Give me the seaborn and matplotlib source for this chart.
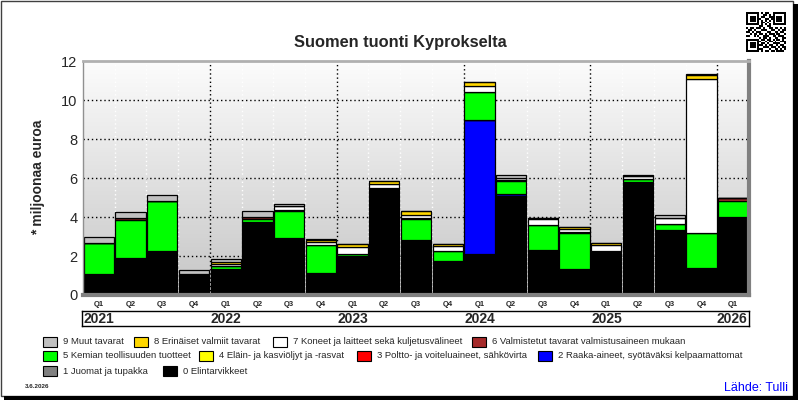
import numpy as np
import pandas as pd
import matplotlib
matplotlib.use("Agg")
import matplotlib.pyplot as plt
import seaborn as sns
from matplotlib.patches import Rectangle
from matplotlib.colors import LinearSegmentedColormap

# --- data (miljoonaa euroa) ---
quarters = ["Q1", "Q2", "Q3", "Q4"] * 5 + ["Q1"]
years = [2021] * 4 + [2022] * 4 + [2023] * 4 + [2024] * 4 + [2025] * 4 + [2026]

categories = [
    "9 Muut tavarat",
    "8 Erinäiset valmiit tavarat",
    "7 Koneet ja laitteet sekä kuljetusvälineet",
    "6 Valmistetut tavarat valmistusaineen mukaan",
    "5 Kemian teollisuuden tuotteet",
    "4 Eläin- ja kasviöljyt ja -rasvat",
    "3 Poltto- ja voiteluaineet, sähkövirta",
    "2 Raaka-aineet, syötäväksi kelpaamattomat",
    "1 Juomat ja tupakka",
    "0 Elintarvikkeet",
]
colors = ["#c0c0c0", "#ffd700", "#ffffff", "#a52a2a", "#00ff00",
          "#ffff00", "#ff0000", "#0000ff", "#808080", "#000000"]

s0 = [1.07, 1.89, 2.24, 1.07, 1.34, 3.74, 2.92, 1.14, 1.99, 5.48, 2.81,
      1.73, 2.11, 5.07, 2.30, 1.33, 2.18, 5.72, 3.32, 1.38, 3.98]
s1 = [0, 0, 0, 0, 0, 0, 0, 0, 0, 0, 0, 0, 0, 0, 0, 0, 0, 0.05, 0, 0, 0]
s2 = [0, 0, 0, 0, 0, 0, 0, 0, 0, 0, 0, 0, 6.89, 0.12, 0, 0, 0, 0, 0, 0, 0]
s3 = [0] * 21
s4 = [0] * 21
s5 = [1.60, 1.94, 2.57, 0, 0.14, 0.17, 1.38, 1.44, 0.10, 0.03, 1.07,
      0.53, 1.39, 0.64, 1.30, 1.85, 0.06, 0.20, 0.32, 1.82, 0.82]
s6 = [0, 0.10, 0, 0, 0, 0.10, 0.05, 0, 0, 0, 0.08, 0, 0, 0.05, 0, 0.04,
      0, 0, 0, 0, 0.15]
s7 = [0, 0, 0, 0, 0.12, 0, 0.20, 0.15, 0.37, 0.20, 0.15, 0.26, 0.31, 0.10,
      0.30, 0.16, 0.31, 0.12, 0.32, 7.90, 0]
s8 = [0, 0, 0, 0, 0.08, 0, 0, 0.10, 0.17, 0.14, 0.22, 0.12, 0.20, 0, 0.06,
      0.10, 0.12, 0, 0, 0.16, 0]
s9 = [0.33, 0.34, 0.33, 0.21, 0.16, 0.30, 0.13, 0.03, 0, 0, 0, 0, 0, 0.15,
      0, 0, 0, 0.08, 0.16, 0.05, 0]
series = [s9, s8, s7, s6, s5, s4, s3, s2, s1, s0]

yticks = [0, 2, 4, 6, 8, 10, 12]

# long format for seaborn
rows = []
for cat, vals in zip(categories, series):
    for i, v in enumerate(vals):
        rows.append({"idx": i, "ryhmä": cat, "arvo": v})
df = pd.DataFrame(rows)

sns.set_style("white")
plt.rcParams["font.family"] = ["Liberation Sans", "DejaVu Sans"]

W, H = 800, 400
fig = plt.figure(figsize=(8, 4), dpi=100)


def fx(x):
    return x / W


def fy(y):
    return 1 - y / H


# plot area
ax = fig.add_axes([fx(83), fy(295), fx(666), 234 / H])

# gradient background
cmap = LinearSegmentedColormap.from_list("bg", ["#c6c6c6", "#fcfcfc"])
grad = np.linspace(0, 1, 256).reshape(-1, 1)
ax.imshow(grad, extent=[-0.5, 20.5, 0, 12], origin="lower", aspect="auto",
          cmap=cmap, zorder=0)

n = len(quarters)
# grid
for yv in yticks[1:-1]:
    ax.axhline(yv, color="black", lw=1, ls=(0, (1, 2)), zorder=0.5)
for k in range(1, n):
    b = k - 0.5
    if years[k] != years[k - 1]:
        ax.axvline(b, color="black", lw=1, ls=(0, (1, 2)), zorder=0.5)
    else:
        ax.axvline(b, color="white", lw=1, ls=(0, (1, 2)), zorder=0.5)

sns.histplot(data=df, x="idx", weights="arvo", hue="ryhmä",
             hue_order=categories, palette=dict(zip(categories, colors)),
             multiple="stack", discrete=True, shrink=0.955,
             edgecolor="black", linewidth=0.9, alpha=1, legend=False, ax=ax)

ax.set_xlim(-0.5, n - 0.5)
ax.set_ylim(0, 12)
ax.set_xlabel("")
ax.set_ylabel("")

ax.set_yticks(yticks)
ax.set_yticklabels([str(v) for v in yticks], fontsize=10.5)
ax.tick_params(axis="y", length=0, pad=4)

ax.set_xticks(np.arange(-0.5, n, 1))
ax.set_xticklabels([])
ax.tick_params(axis="x", which="major", length=4, width=1, color="black",
               direction="out")
ax.set_xticks(np.arange(n), minor=True)
ax.set_xticklabels(quarters, minor=True, fontsize=5.5, fontweight="bold")
ax.tick_params(axis="x", which="minor", length=0, pad=4)

ax.spines["top"].set_color("#b0b0b0")
ax.spines["top"].set_linewidth(2)
ax.spines["right"].set_color("#808080")
ax.spines["right"].set_linewidth(3)
ax.spines["bottom"].set_color("#808080")
ax.spines["bottom"].set_linewidth(3)
ax.spines["left"].set_color("#909090")
ax.spines["left"].set_linewidth(1)

# year strip
ay = fig.add_axes([fx(82), fy(326), fx(667), 15 / H])
ay.set_xlim(-0.5, n - 0.5)
ay.set_ylim(0, 1)
ay.set_xticks([])
ay.set_yticks([])
for sp in ay.spines.values():
    sp.set_color("black")
    sp.set_linewidth(1)
for yr in sorted(set(years)):
    first = years.index(yr)
    cnt = years.count(yr)
    if cnt >= 2:
        ay.text(first - 0.5 + 0.05, 0.45, str(yr), ha="left", va="center",
                fontsize=10, fontweight="bold")
    else:
        ay.text(n - 0.5 - 0.05, 0.45, str(yr), ha="right", va="center",
                fontsize=10, fontweight="bold")

# title and labels
fig.text(0.5, fy(42), "Suomen tuonti Kyprokselta", ha="center", va="center",
         fontsize=11.8, fontweight="bold")
fig.text(fx(38), fy(177), "* miljoonaa euroa", rotation=90, ha="center",
         va="center", fontsize=10, fontweight="bold")

# legend (flow layout as in reference)
leg_pos = [(43, 342), (134, 342), (273, 342), (472, 342),
           (43, 356), (199, 356), (357, 356), (538, 356),
           (43, 371), (163, 371)]
for (px, py), cat, col in zip(leg_pos, categories, colors):
    fig.add_artist(Rectangle((fx(px), fy(py + 5)), fx(14), 10 / H,
                             facecolor=col, edgecolor="black", lw=0.8,
                             transform=fig.transFigure))
    fig.text(fx(px + 20), fy(py), cat, ha="left", va="center", fontsize=6.8)

fig.text(fx(25), fy(386), "3.6.2026", ha="left", va="center", fontsize=4.5,
         fontweight="bold")
fig.text(fx(788), fy(388), "Lähde: Tulli", ha="right", va="center",
         fontsize=9, color="#0000ff")

# QR-like badge
qr_rows = [
    "111111101011001111111", "100000100110101000001",
    "101110101100111011101", "101110110011011011101",
    "101110101010101011101", "100000101101001000001",
    "111111101010101111111", "000000011001100000000",
    "101101110100110110101", "011010001110011001011",
    "110101110001100110110", "001011011010111011001",
    "110010100111001101110", "000000010110100110011",
    "111111101101101011010", "100000110010110100111",
    "101110101101001111001", "101110111010110010110",
    "101110100111011101011", "100000111000100110101",
    "111111101011011011110",
]
qr = np.array([[int(c) for c in r] for r in qr_rows])
aq = fig.add_axes([fx(746), fy(52), fx(40), 40 / H])
aq.imshow(qr, cmap="gray_r", interpolation="nearest", aspect="auto")
aq.axis("off")

# outer frame with shadow
fig.add_artist(Rectangle((fx(1), fy(396)), fx(792), 395 / H, fill=False,
                         edgecolor="#404040", lw=1, transform=fig.transFigure))
fig.add_artist(Rectangle((fx(793), fy(400)), fx(5), 396 / H,
                         facecolor="black", lw=0, transform=fig.transFigure))
fig.add_artist(Rectangle((fx(4), fy(400)), fx(794), 4 / H,
                         facecolor="black", lw=0, transform=fig.transFigure))

fig.savefig("out.png", dpi=100)
